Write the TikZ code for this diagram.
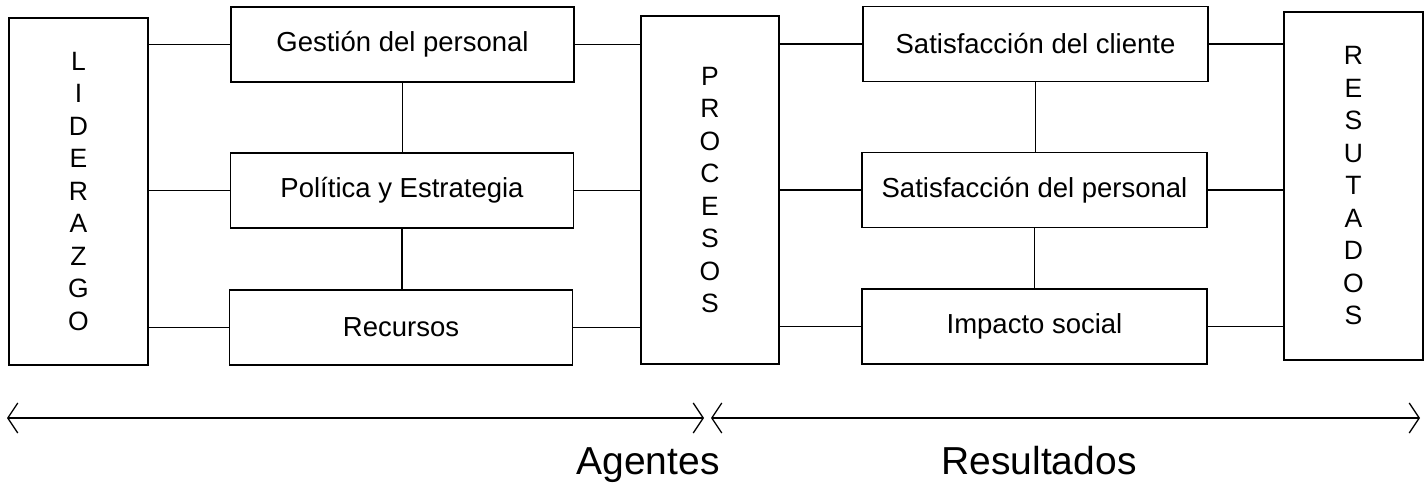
\documentclass[tikz,border=0pt]{standalone}
\usepackage{fontspec}
\setmainfont{Liberation Sans}
\usetikzlibrary{arrows.meta}
\begin{document}
\begin{tikzpicture}[x=1pt,y=-1pt,
  every node/.style={inner sep=0pt, outer sep=0pt},
  box/.style={draw, line width=1.3pt, rectangle, minimum width=343pt, minimum height=75pt, font=\fontsize{27.5}{30}\selectfont},
  tallbox/.style={draw, line width=1.3pt, rectangle, minimum width=139pt, minimum height=347pt, align=center, font=\fontsize{26.5}{32.5}\selectfont},
  conn/.style={line width=1.3pt},
  spanarrow/.style={line width=1.3pt, {Straight Barb[length=10pt,width=30pt]}-{Straight Barb[length=10pt,width=30pt]}},
  big/.style={font=\fontsize{39}{42}\selectfont, anchor=base}
]
\useasboundingbox (0,0) rectangle (1427,485);
% left tall box
\node[tallbox] (lid) at (78.5,191.5) {L\\I\\D\\E\\R\\A\\Z\\G\\O};
% agent boxes
\node[box] (gp) at (402.5,44.5) {Gestión del personal};
\node[box] (pe) at (402,190.5) {Política y Estrategia};
\node[box] (rec) at (401,327.5) {Recursos};
% processes
\node[tallbox, minimum width=138pt, minimum height=348pt] (proc) at (710,190) {P\\R\\O\\C\\E\\S\\O\\S};
% result boxes
\node[box, minimum width=345pt] (sc) at (1035.5,44) {Satisfacción del cliente};
\node[box, minimum width=345pt] (sp) at (1034.5,190) {Satisfacción del personal};
\node[box, minimum width=345pt] (is) at (1034.5,326.5) {Impacto social};
% results tall box
\node[tallbox, minimum height=348pt] (res) at (1353.5,186) {R\\E\\S\\U\\T\\A\\D\\O\\S};

% connectors left
\draw[conn] (lid.east |- gp.west) -- (gp.west);
\draw[conn] (lid.east |- pe.west) -- (pe.west);
\draw[conn] (lid.east |- rec.west) -- (rec.west);
\draw[conn] (gp.south) -- (gp.south |- pe.north);
\draw[conn] (pe.south) -- (pe.south |- rec.north);
\draw[conn] (gp.east) -- (gp.east -| proc.west);
\draw[conn] (pe.east) -- (pe.east -| proc.west);
\draw[conn] (rec.east) -- (rec.east -| proc.west);
% connectors right
\draw[conn] (proc.east |- sc.west) -- (sc.west);
\draw[conn] (proc.east |- sp.west) -- (sp.west);
\draw[conn] (proc.east |- is.west) -- (is.west);
\draw[conn] (sc.south) -- (sc.south |- sp.north);
\draw[conn] (sp.south) -- (sp.south |- is.north);
\draw[conn] (sc.east) -- (sc.east -| res.west);
\draw[conn] (sp.east) -- (sp.east -| res.west);
\draw[conn] (is.east) -- (is.east -| res.west);

% range arrows
\coordinate (a1) at (7,418);
\coordinate (a2) at (704,418);
\coordinate (b1) at (711,418);
\coordinate (b2) at (1420,418);
\draw[spanarrow] (a1) -- (a2);
\draw[spanarrow] (b1) -- (b2);

% labels
\node[big] (ag) at (648,474) {Agentes};
\node[big] (rs) at (1039,474) {Resultados};
\end{tikzpicture}
\end{document}
